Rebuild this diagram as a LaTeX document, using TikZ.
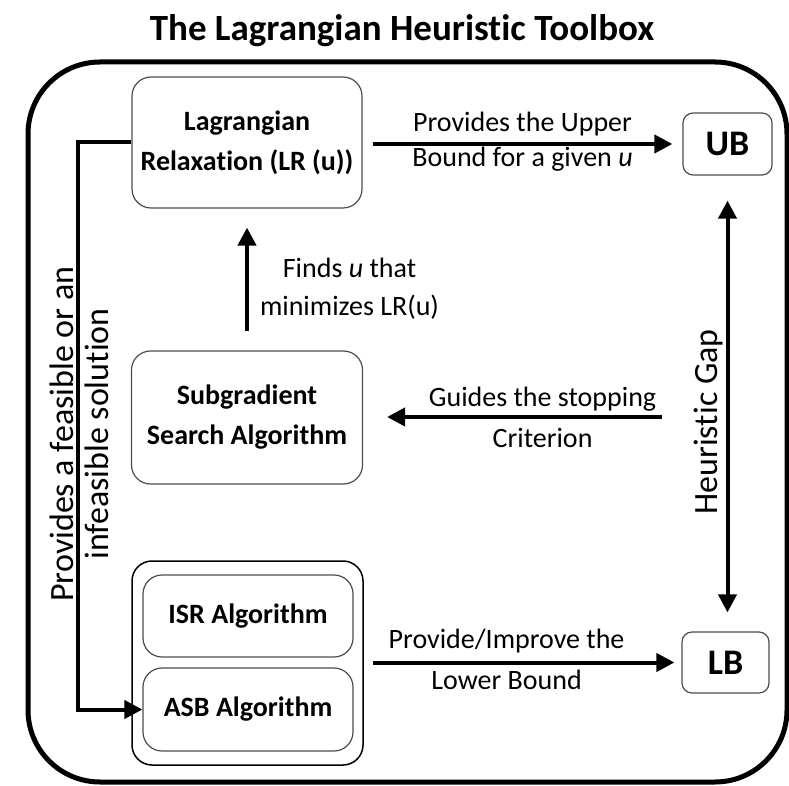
\documentclass[tikz,border=0pt]{standalone}
\usepackage{fontspec}
\setmainfont{Carlito}[Ligatures=NoCommon]
\usetikzlibrary{arrows.meta}

\begin{document}
\begin{tikzpicture}[x=1pt, y=1pt,
	every node/.style={font=\fontsize{28}{34}\selectfont},
	>={Triangle[length=18pt,width=18pt]},
	box/.style={draw=black!70, line width=1.2pt, rounded corners=19pt, align=center, font=\bfseries\fontsize{28}{40}\selectfont},
	bnd/.style={draw=black!70, line width=1.2pt, rounded corners=10pt, font=\bfseries\fontsize{36}{40}\selectfont},
	flow/.style={line width=4pt, ->},
	lbl/.style={align=center, inner sep=2pt}]
	\useasboundingbox (0,0) rectangle (789,785);
	\node[font=\bfseries\fontsize{37}{40}\selectfont] (title) at (402,754) {The Lagrangian Heuristic Toolbox};
	\draw[line width=5pt, rounded corners=72pt] (28,3) rectangle (787,723);
	
	% left column
	\node[box, minimum width=230pt, minimum height=131pt] (lr) at (247,642.5) {Lagrangian\\Relaxation (LR (u))};
	\node[box, minimum width=231pt, minimum height=133pt] (sub) at (247,367.5) {Subgradient\\Search Algorithm};
	\node[draw, line width=1.5pt, rounded corners=20pt, minimum width=231pt, minimum height=204pt] (grp) at (247.5,122) {};
	\node[box, minimum width=210pt, minimum height=82pt] (isr) at (248,169) {ISR Algorithm};
	\node[box, minimum width=210pt, minimum height=83pt] (asb) at (248,75.5) {ASB Algorithm};
	
	% bounds
	\node[bnd, minimum width=89pt, minimum height=62pt] (ub) at (727.5,641) {UB};
	\node[bnd, minimum width=87pt, minimum height=61pt] (lb) at (725.5,122.5) {LB};
	
	\draw[flow, shorten <=10pt, shorten >=10pt] (lr.east |- ub.west) -- (ub.west)
		node[midway, lbl, yshift=2pt, font=\fontsize{28}{35}\selectfont] {Provides the Upper\\Bound for a given \textit{u}};
	\draw[flow, shorten <=19pt, shorten >=19pt] (sub.north) -- (lr.south)
		node[midway, right=9pt, yshift=-9pt, lbl, font=\fontsize{28}{38}\selectfont] {Finds \textit{u} that\\minimizes LR(u)};
	\coordinate (gs) at (662,368);
	\draw[flow, shorten >=24pt] (gs) -- (gs -| sub.east)
		node[midway, lbl, xshift=30pt, font=\fontsize{28}{41}\selectfont] {Guides the stopping\\Criterion};
	\draw[flow, <->, shorten <=25pt, shorten >=19pt] (ub.south) -- (ub.south |- lb.north);
	\node[rotate=90, inner sep=0pt, font=\fontsize{34}{34}\selectfont] (gap) at (709,363) {Heuristic Gap};
	\draw[flow, shorten <=9pt, shorten >=7pt] (grp.east |- lb.west) -- (lb.west)
		node[midway, lbl, xshift=-16pt, yshift=3pt, font=\fontsize{28}{41}\selectfont] {Provide/Improve the\\Lower Bound};
	
	% feedback to the algorithms
	\draw[line width=4pt, ->] (lr.west) -- ++(-53,0) |- (asb.west);
	\node[rotate=90, lbl, inner sep=0pt, font=\fontsize{34}{35}\selectfont] (sol) at (79,351) {Provides a feasible or an\\infeasible solution};
\end{tikzpicture}
\end{document}
